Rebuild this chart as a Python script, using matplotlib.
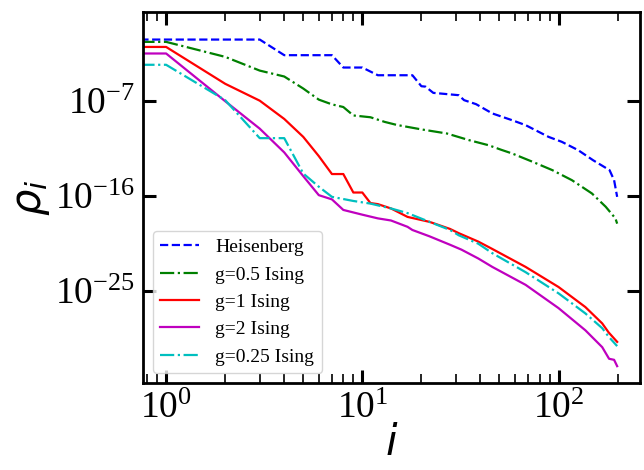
import numpy as np
import matplotlib
matplotlib.use('Agg')
import matplotlib.pyplot as plt
from matplotlib.ticker import NullLocator, LogLocator

plt.rcParams.update({
    "font.family": "serif",
    "font.serif": ["Liberation Serif", "DejaVu Serif"],
    "font.size": 27,
})

# Entanglement spectrum values, log10(rho_i) (i=0 is the largest eigenvalue)
i_heis = [0, 1, 3, 4, 7, 8, 10, 12, 18, 20, 21, 23, 31, 33, 38, 46, 58, 68, 89, 104, 126, 150, 182, 192, 199]
L_heis = [-0.1, -1.16, -1.16, -2.64, -2.64, -3.81, -3.81, -4.54, -4.54, -5.58, -5.62, -6.21, -6.43,
          -6.9, -7.28, -8.16, -8.8, -9.27, -10.38, -10.85, -11.64, -12.59, -13.53, -14.48, -16.06]

i_g05 = [0, 1, 2, 3, 4, 5, 6, 7, 8, 9, 11, 13, 15, 20, 27, 35, 44, 51, 58, 74, 93, 117, 148, 174, 195, 199]
L_g05 = [-0.1, -1.38, -2.8, -4.1, -4.66, -5.8, -6.85, -7.3, -7.55, -8.35, -8.52, -8.96, -9.25, -9.67,
         -10.06, -10.69, -11.17, -11.6, -11.95, -12.75, -13.53, -14.48, -15.74, -17.0, -18.1, -18.6]

i_g1 = [0, 1, 2, 3, 4, 5, 6, 7, 8, 9, 10, 11, 12, 14, 17, 22, 28, 31, 39, 46, 68, 100, 137, 167, 180, 199]
L_g1 = [-0.1, -1.86, -5.35, -6.95, -8.68, -10.38, -12.2, -13.9, -13.9, -15.65, -15.65, -16.65, -16.75,
        -17.16, -17.96, -18.43, -19.1, -19.5, -20.3, -21.0, -22.7, -24.6, -26.5, -28.05, -28.9, -29.8]

i_g2 = [0, 1, 2, 3, 4, 5, 6, 7, 8, 10, 12, 14, 17, 18, 22, 28, 32, 39, 46, 68, 100, 137, 167, 181, 192, 199]
L_g2 = [-0.1, -2.48, -7.0, -9.6, -11.85, -14.1, -15.9, -16.3, -17.3, -17.75, -18.1, -18.3, -18.9, -19.2,
        -19.8, -20.6, -21.06, -21.9, -22.7, -24.4, -26.6, -28.7, -30.3, -31.4, -31.5, -32.1]

i_g025 = [0, 1, 2, 3, 4, 5, 6, 7, 9, 11, 14, 17, 22, 28, 31, 39, 46, 68, 100, 137, 167, 180, 199]
L_g025 = [-0.1, -3.55, -6.9, -10.5, -10.5, -13.85, -15.1, -16.06, -16.45, -16.7, -17.16, -17.6, -18.43,
          -19.2, -19.7, -20.5, -21.4, -23.2, -25.2, -27.1, -28.5, -29.3, -30.2]

series = [
    (i_heis, L_heis, 'b', '--', 'Heisenberg'),
    (i_g05, L_g05, 'g', '-.', 'g=0.5 Ising'),
    (i_g1, L_g1, 'r', '-', 'g=1 Ising'),
    (i_g2, L_g2, 'm', '-', 'g=2 Ising'),
    (i_g025, L_g025, 'c', '-.', 'g=0.25 Ising'),
]

fig = plt.figure(figsize=(6.44, 4.70), dpi=100)
ax = fig.add_axes([0.222, 0.185, 0.772, 0.789])

for i_vals, L_vals, c, ls, lab in series:
    ax.plot(i_vals, 10.0 ** np.array(L_vals), c=c, ls=ls, lw=1.6, label=lab)

ax.set_xscale('log')
ax.set_yscale('log')
ax.set_xlim(10 ** -0.118, 10 ** 2.416)
ax.set_ylim(10 ** -33.7, 10 ** 1.43)
ax.set_yticks([1e-25, 1e-16, 1e-7])
ax.yaxis.set_minor_locator(NullLocator())
ax.xaxis.set_minor_locator(LogLocator(base=10, subs=np.arange(2, 10)))

for s in ax.spines.values():
    s.set_linewidth(2)
ax.tick_params(which='both', direction='in', top=True, right=True)
ax.tick_params(which='major', length=9.5, width=2.2, pad=6)
ax.tick_params(which='minor', length=6.5, width=1.2)

ax.set_xlabel('$i$', fontsize=30, labelpad=0)
ax.set_ylabel(r'$\rho_i$', fontsize=30, labelpad=2)

ax.legend(loc='lower left', fontsize=14)

fig.savefig('out.png', dpi=100)
